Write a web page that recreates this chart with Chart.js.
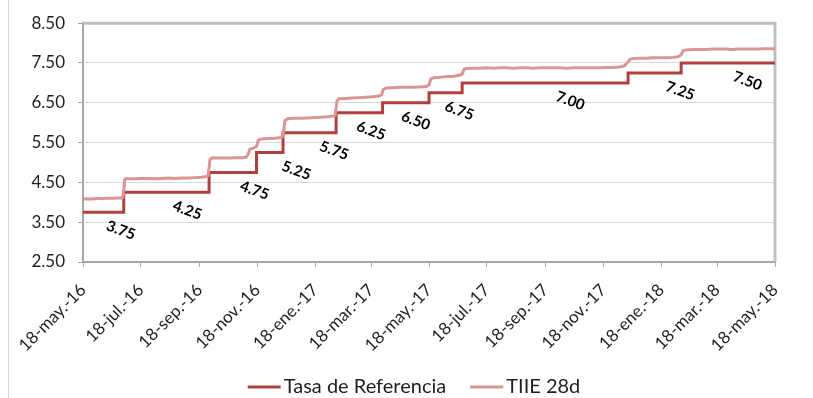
<!DOCTYPE html>
<html>
<head>
<meta charset="utf-8">
<script src="https://cdn.jsdelivr.net/npm/chart.js@4/dist/chart.umd.min.js"></script>
<style>
  html, body { margin: 0; padding: 0; background: #ffffff; }
  canvas { display: block; }
</style>
</head>
<body>
<canvas id="chart" width="813" height="398"></canvas>
<script>
// Days counted from 18-may-2016
const tickDays = [0, 61, 123, 184, 245, 304, 365, 426, 488, 549, 610, 669, 730];
const tickLabels = ['18-may.-16', '18-jul.-16', '18-sep.-16', '18-nov.-16', '18-ene.-17', '18-mar.-17',
                    '18-may.-17', '18-jul.-17', '18-sep.-17', '18-nov.-17', '18-ene.-18', '18-mar.-18', '18-may.-18'];
const yTicks = [2.5, 3.5, 4.5, 5.5, 6.5, 7.5, 8.5];

// Tasa de Referencia: day each rate takes effect
const refDays  = [0, 43, 133, 183, 211, 267, 316, 365, 400, 575, 631, 730];
const refRates = [3.75, 4.25, 4.75, 5.25, 5.75, 6.25, 6.50, 6.75, 7.00, 7.25, 7.50, 7.50];
// where each rate label sits along the time axis
const rateLabelDays = [40, 110, 181, 225, 265, 304, 351, 397, 514, 630, 701];

// TIIE 28 días
const tiieDays = [
  0, 4, 8, 12, 16, 20, 24, 28, 32, 36, 40, 42, 43, 44, 45,
  48, 55, 62, 69, 76, 83, 90, 97, 104, 111, 118, 125, 130, 132, 134, 136,
  140, 147, 154, 161, 168, 172, 174, 176, 180, 183, 185, 188,
  195, 202, 209, 211, 213, 216, 223, 230, 237, 244, 251, 258, 264, 266, 268, 270,
  277, 284, 291, 298, 305, 312, 315, 317, 320,
  327, 334, 341, 348, 355, 362, 365, 367, 370, 377, 384, 391, 398, 400, 402, 405,
  412, 419, 426, 433, 440, 447, 454, 461, 468, 475, 482, 489, 496, 503, 510, 517,
  524, 531, 538, 545, 552, 559, 566, 571, 574, 577, 580,
  587, 594, 601, 608, 615, 622, 628, 631, 633, 636,
  643, 650, 657, 664, 671, 678, 685, 692, 699, 706, 713, 720, 727, 730
];
const tiieValues = [
  4.08, 4.09, 4.08, 4.09, 4.10, 4.09, 4.10, 4.10, 4.10, 4.11, 4.11, 4.12, 4.30, 4.57, 4.59,
  4.59, 4.59, 4.60, 4.60, 4.59, 4.60, 4.61, 4.60, 4.61, 4.61, 4.62, 4.63, 4.65, 4.67, 5.08, 5.11,
  5.11, 5.11, 5.11, 5.12, 5.12, 5.13, 5.20, 5.33, 5.37, 5.40, 5.56, 5.59,
  5.60, 5.61, 5.63, 5.66, 6.05, 6.10, 6.11, 6.11, 6.12, 6.13, 6.14, 6.15, 6.17, 6.19, 6.55, 6.60,
  6.61, 6.62, 6.63, 6.64, 6.65, 6.67, 6.70, 6.84, 6.87,
  6.88, 6.89, 6.89, 6.89, 6.90, 6.91, 6.95, 7.10, 7.13, 7.14, 7.16, 7.17, 7.20, 7.22, 7.34, 7.36,
  7.37, 7.37, 7.38, 7.37, 7.38, 7.38, 7.37, 7.38, 7.38, 7.37, 7.38, 7.38, 7.38, 7.38, 7.37, 7.38,
  7.38, 7.38, 7.38, 7.38, 7.39, 7.39, 7.40, 7.43, 7.50, 7.59, 7.61,
  7.62, 7.62, 7.63, 7.63, 7.63, 7.64, 7.66, 7.70, 7.81, 7.83,
  7.84, 7.84, 7.84, 7.85, 7.85, 7.85, 7.84, 7.85, 7.85, 7.85, 7.85, 7.86, 7.86, 7.86
];

const REF_COLOR = '#B0403E';
const TIIE_COLOR = '#D99694';
const TEXT_COLOR = '#1F1F1F';
const FONT = 'Lato, "Open Sans", sans-serif';

// Plot-area frame (top and right edges) and the outer left rule
const framePlugin = {
  id: 'frame',
  beforeDraw(chart) {
    const ctx = chart.ctx;
    ctx.save();
    ctx.strokeStyle = '#D9D9D9';
    ctx.lineWidth = 1;
    ctx.beginPath();
    ctx.moveTo(8.5, 0);
    ctx.lineTo(8.5, chart.height);
    ctx.stroke();
    ctx.restore();
  },
  beforeDatasetsDraw(chart) {
    const { ctx, chartArea: a } = chart;
    ctx.save();
    ctx.strokeStyle = '#BFBFBF';
    ctx.lineWidth = 3;
    ctx.beginPath();
    ctx.moveTo(a.left, a.top);
    ctx.lineTo(a.right, a.top);
    ctx.lineTo(a.right, a.bottom);
    ctx.stroke();
    ctx.restore();
  }
};

// Value labels under each step of the reference rate
const rateLabelPlugin = {
  id: 'rateLabels',
  afterDatasetsDraw(chart) {
    const { ctx, scales } = chart;
    ctx.save();
    ctx.font = 'bold 15px ' + FONT;
    ctx.fillStyle = '#000000';
    ctx.textAlign = 'center';
    ctx.textBaseline = 'middle';
    rateLabelDays.forEach((d, i) => {
      const rate = refRates[i];
      const x = scales.x.getPixelForValue(d);
      const y = scales.y.getPixelForValue(rate) + 18;
      ctx.save();
      ctx.translate(x, y);
      ctx.rotate(20 * Math.PI / 180);
      ctx.fillText(rate.toFixed(2), 0, 0);
      ctx.restore();
    });
    ctx.restore();
  }
};

// Legend row under the axis
const legendPlugin = {
  id: 'bottomLegend',
  afterDraw(chart) {
    const ctx = chart.ctx;
    const sets = chart.data.datasets;
    const lineLen = 33, gap = 3, itemGap = 24, y = 387, center = 414;
    ctx.save();
    ctx.font = '20px ' + FONT;
    const widths = sets.map(s => ctx.measureText(s.label).width);
    const total = widths.reduce((t, w) => t + lineLen + gap + w, 0) + itemGap * (sets.length - 1);
    let x = center - total / 2;
    sets.forEach((s, i) => {
      ctx.strokeStyle = s.borderColor;
      ctx.lineWidth = 3;
      ctx.beginPath();
      ctx.moveTo(x, y);
      ctx.lineTo(x + lineLen, y);
      ctx.stroke();
      ctx.fillStyle = TEXT_COLOR;
      ctx.textAlign = 'left';
      ctx.textBaseline = 'middle';
      ctx.fillText(s.label, x + lineLen + gap, y);
      x += lineLen + gap + widths[i] + itemGap;
    });
    ctx.restore();
  }
};

new Chart(document.getElementById('chart'), {
  type: 'line',
  data: {
    datasets: [
      {
        label: 'Tasa de Referencia',
        data: refDays.map((d, i) => ({ x: d, y: refRates[i] })),
        borderColor: REF_COLOR,
        borderWidth: 3,
        stepped: 'before',
        pointRadius: 0,
        fill: false,
        order: 1
      },
      {
        label: 'TIIE 28d',
        data: tiieDays.map((d, i) => ({ x: d, y: tiieValues[i] })),
        borderColor: TIIE_COLOR,
        borderWidth: 3,
        tension: 0,
        pointRadius: 0,
        fill: false,
        order: 0
      }
    ]
  },
  options: {
    responsive: false,
    animation: false,
    devicePixelRatio: 1,
    layout: { padding: { top: 17, right: 38, bottom: 0, left: 0 } },
    plugins: {
      legend: { display: false },
      tooltip: { enabled: false }
    },
    scales: {
      x: {
        type: 'linear',
        min: 0,
        max: 730,
        afterBuildTicks: s => { s.ticks = tickDays.map(v => ({ value: v })); },
        afterFit: s => { s.height = 136; },
        ticks: {
          autoSkip: false,
          minRotation: 45,
          maxRotation: 45,
          padding: 13,
          color: TEXT_COLOR,
          font: { family: FONT, size: 17 },
          callback: (v, i) => tickLabels[i]
        },
        grid: { drawOnChartArea: false, drawTicks: true, tickLength: 5, tickColor: '#A6A6A6', tickWidth: 1 },
        border: { color: '#A6A6A6', width: 2 }
      },
      y: {
        min: 2.5,
        max: 8.5,
        afterBuildTicks: s => { s.ticks = yTicks.map(v => ({ value: v })); },
        afterFit: s => { s.width = 83; },
        ticks: {
          padding: 13,
          color: TEXT_COLOR,
          font: { family: FONT, size: 17 },
          callback: v => Number(v).toFixed(2)
        },
        grid: { color: '#D9D9D9', lineWidth: 1, tickLength: 5, tickColor: '#A6A6A6' },
        border: { color: '#A6A6A6', width: 2 }
      }
    }
  },
  plugins: [framePlugin, rateLabelPlugin, legendPlugin]
});
</script>
</body>
</html>
